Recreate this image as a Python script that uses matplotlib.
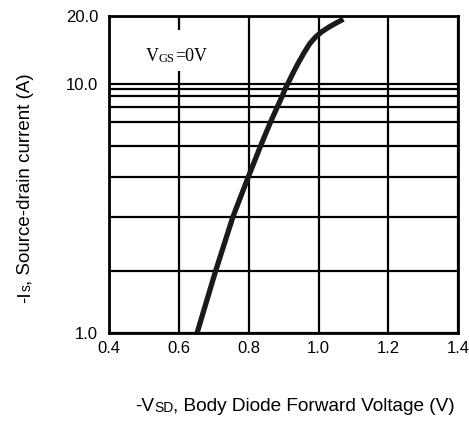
import numpy as np
import matplotlib
matplotlib.use("Agg")
import matplotlib.pyplot as plt
from matplotlib.patches import Rectangle

# ---- data ----
vsd = [0.652, 0.705, 0.754, 0.798, 0.834, 0.862, 0.882, 0.896, 0.904, 0.911,
       0.928, 0.943, 0.959, 0.975, 0.991, 1.009, 1.029, 1.051, 1.071]
i_s = [1.0, 2.0, 3.0, 4.0, 5.0, 6.0, 7.0, 8.0, 9.0, 10.0,
       11.3, 12.5, 13.8, 15.1, 16.1, 17.0, 17.8, 18.6, 19.3]

x_ticks = [0.4, 0.6, 0.8, 1.0, 1.2, 1.4]
x_ticklabels = ["0.4", "0.6", "0.8", "1.0", "1.2", "1.4"]
y_grid = [1, 2, 3, 4, 5, 6, 7, 8, 9, 10, 20]
y_ticklabels = ["1.0", "", "", "", "", "", "", "", "", "10.0", "20.0"]
# the reference's (hand-drawn) log axis: relative height of each gridline
y_grid_frac = [0.0, 0.195, 0.364, 0.490, 0.590, 0.664, 0.713, 0.747, 0.769, 0.784, 1.0]

lg_grid = np.log10(y_grid)


def fwd(v):
    v = np.clip(np.asarray(v, dtype=float), 1e-6, None)
    return np.interp(np.log10(v), lg_grid, y_grid_frac)


def inv(u):
    return 10 ** np.interp(np.asarray(u, dtype=float), y_grid_frac, lg_grid)


SANS = "Liberation Sans"
SERIF = "Liberation Serif"

fig = plt.figure(figsize=(4.69, 4.25), dpi=100)
ax = fig.add_axes([0.233, 0.2176, 0.744, 0.7455])

ax.set_yscale("function", functions=(fwd, inv))
ax.set_xlim(0.4, 1.4)
ax.set_ylim(1, 20)
ax.set_xticks(x_ticks, labels=x_ticklabels)
ax.set_yticks(y_grid, labels=y_ticklabels)
ax.minorticks_off()
ax.tick_params(length=0, pad=6, labelsize=12)
for lab in ax.get_xticklabels() + ax.get_yticklabels():
    lab.set_fontfamily(SANS)
ax.tick_params(axis="y", pad=8)

ax.grid(True, color="black", lw=1.6)
for s in ax.spines.values():
    s.set_linewidth(2.0)
    s.set_zorder(2.5)

# white box interrupting the 0.6 gridline behind the annotation
ax.add_patch(Rectangle((0.18, 0.825), 0.04, 0.13, transform=ax.transAxes,
                       facecolor="white", edgecolor="none", zorder=1.8))

ax.plot(vsd, i_s, color="#1a1a1a", lw=3.8, solid_capstyle="butt",
        solid_joinstyle="round", zorder=3)

# V_GS=0V annotation (small-caps style subscript)
t1 = ax.text(0.105, 0.845, "V", transform=ax.transAxes, fontsize=13,
             family=SERIF, ha="left", va="bottom")
t2 = ax.annotate("GS", xy=(1, 0), xycoords=t1, fontsize=9, family=SERIF,
                 ha="left", va="bottom")
t3 = ax.annotate("=0V", xy=(1, 0), xycoords=t2, fontsize=13, family=SERIF,
                 ha="left", va="bottom")

# x label
xl1 = fig.text(0.288, 0.024, "-V", fontsize=13.7, family=SANS,
               ha="left", va="bottom")
xl2 = fig.add_artist(plt.Annotation("SD", xy=(1, 0), xycoords=xl1, fontsize=10,
                                    family=SANS, ha="left", va="bottom"))
xl3 = fig.add_artist(plt.Annotation(", Body Diode Forward Voltage (V)", xy=(1, 0),
                                    xycoords=xl2, fontsize=13.7, family=SANS,
                                    ha="left", va="bottom"))

# y label (rotated)
yl1 = fig.text(0.0725, 0.287, "-I", fontsize=13.5, family=SANS, rotation=90,
               ha="right", va="bottom")
yl2 = fig.add_artist(plt.Annotation("s", xy=(1, 1), xycoords=yl1, fontsize=10,
                                    family=SANS, rotation=90,
                                    ha="right", va="bottom"))
yl3 = fig.add_artist(plt.Annotation(", Source-drain current (A)", xy=(1, 1),
                                    xycoords=yl2, fontsize=13.5, family=SANS,
                                    rotation=90, ha="right", va="bottom"))

fig.savefig("out.png", dpi=100)
